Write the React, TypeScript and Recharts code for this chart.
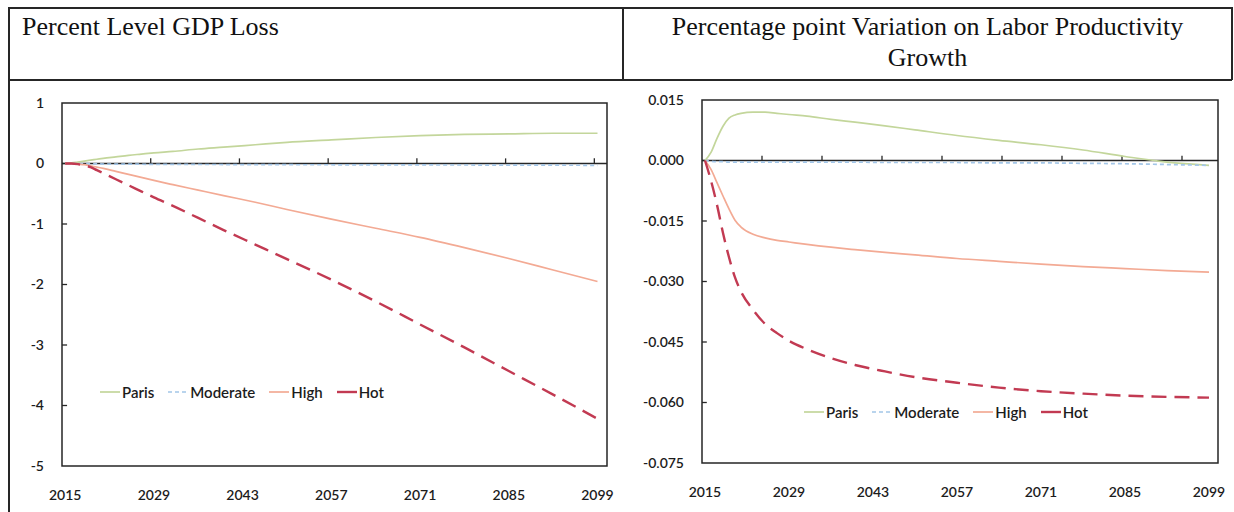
import {
  LineChart,
  Line,
  XAxis,
  YAxis,
  ReferenceLine,
  ReferenceArea,
  Legend,
} from "recharts";

// sample years (both panels share the same category axis 2015..2100)
const YEARS = [
  2015, 2016, 2017, 2018, 2019, 2020, 2021, 2023, 2025, 2027, 2029, 2032,
  2036, 2040, 2045, 2050, 2057, 2064, 2071, 2078, 2085, 2092, 2099,
];

// Percent level GDP loss
const GDP_PARIS = [
  0, 0.01, 0.025, 0.04, 0.055, 0.07, 0.085, 0.11, 0.135, 0.155, 0.175, 0.2,
  0.24, 0.27, 0.31, 0.35, 0.39, 0.43, 0.46, 0.48, 0.49, 0.5, 0.5,
];
const GDP_MODERATE = [
  0, 0, 0, 0, -0.005, -0.005, -0.01, -0.01, -0.01, -0.012, -0.014, -0.015,
  -0.016, -0.017, -0.018, -0.02, -0.021, -0.022, -0.024, -0.025, -0.026,
  -0.028, -0.03,
];
const GDP_HIGH = [
  0, 0, -0.01, -0.02, -0.04, -0.06, -0.08, -0.13, -0.18, -0.23, -0.28, -0.35,
  -0.44, -0.53, -0.64, -0.76, -0.92, -1.07, -1.22, -1.39, -1.57, -1.76, -1.95,
];
const GDP_HOT = [
  0, 0, -0.01, -0.03, -0.06, -0.11, -0.16, -0.26, -0.36, -0.46, -0.56, -0.7,
  -0.9, -1.1, -1.34, -1.58, -1.92, -2.28, -2.66, -3.04, -3.43, -3.82, -4.22,
];

// Percentage point variation on labor productivity growth
const LP_PARIS = [
  0, 0.002, 0.0055, 0.0085, 0.0105, 0.0113, 0.0117, 0.012, 0.012, 0.0117,
  0.0114, 0.011, 0.0102, 0.0095, 0.0086, 0.0076, 0.0062, 0.005, 0.0039,
  0.0026, 0.001, -0.0004, -0.0012,
];
const LP_MODERATE = [
  0, -0.0002, -0.0003, -0.0003, -0.0004, -0.0004, -0.0004, -0.0004, -0.0004,
  -0.0004, -0.0004, -0.0004, -0.0004, -0.0004, -0.0005, -0.0005, -0.0005,
  -0.0006, -0.0006, -0.0007, -0.0008, -0.001, -0.0012,
];
const LP_HIGH = [
  0, -0.0022, -0.0055, -0.0088, -0.012, -0.0148, -0.0165, -0.0183, -0.0192,
  -0.0198, -0.0202, -0.0208, -0.0215, -0.0221, -0.0228, -0.0234, -0.0243,
  -0.025, -0.0257, -0.0263, -0.0268, -0.0273, -0.0277,
];
const LP_HOT = [
  0, -0.005, -0.011, -0.018, -0.024, -0.029, -0.0325, -0.037, -0.0405,
  -0.0428, -0.0447, -0.0468, -0.049, -0.0507, -0.0523, -0.0537, -0.0551,
  -0.0563, -0.0572, -0.0578, -0.0583, -0.0586, -0.0588,
];

// axes
const X_LABELS = [2015, 2029, 2043, 2057, 2071, 2085, 2099];
const GDP_Y_TICKS = [-5, -4, -3, -2, -1, 0, 1];
const LP_Y_TICKS = [-0.075, -0.06, -0.045, -0.03, -0.015, 0, 0.015];
// tick marks on the zero line (category boundaries)
const GDP_ZERO_TICKS = [2028.5, 2042.5, 2056.5, 2070.5, 2084.5, 2098.5];
const LP_ZERO_TICKS = [
  2024.5, 2034.5, 2044.5, 2054.5, 2064.5, 2074.5, 2084.5, 2094.5,
];

const X_DOMAIN: [number, number] = [2014.5, 2100.5];
const AXIS = "#262626";
const TEXT = "#1c1c1c";
const FONT = "Lato, 'Open Sans', sans-serif";
const SERIF = "'Liberation Serif', 'DejaVu Serif', serif";

const SERIES = [
  { key: "Paris", color: "#c3d69b", dash: undefined, width: 1.7 },
  { key: "Moderate", color: "#a3c6e8", dash: "4 3", width: 1.7 },
  { key: "High", color: "#f3aa94", dash: undefined, width: 1.7 },
  { key: "Hot", color: "#c23a52", dash: "15 8", width: 2.4 },
];

const gdpData = YEARS.map((year, i) => ({
  year,
  Paris: GDP_PARIS[i],
  Moderate: GDP_MODERATE[i],
  High: GDP_HIGH[i],
  Hot: GDP_HOT[i],
}));

const lpData = YEARS.map((year, i) => ({
  year,
  Paris: LP_PARIS[i],
  Moderate: LP_MODERATE[i],
  High: LP_HIGH[i],
  Hot: LP_HOT[i],
}));

function LegendRow() {
  return (
    <div
      style={{
        display: "flex",
        alignItems: "center",
        fontFamily: FONT,
        fontSize: 15,
        fontWeight: 600,
        lineHeight: "18px",
        color: TEXT,
        whiteSpace: "nowrap",
      }}
    >
      {SERIES.map((s) => (
        <span
          key={s.key}
          style={{ display: "flex", alignItems: "center", marginRight: 14 }}
        >
          <svg width={20} height={6}>
            <line
              x1={0}
              y1={3}
              x2={20}
              y2={3}
              stroke={s.color}
              strokeWidth={s.width}
              strokeDasharray={s.key === "Moderate" ? "4 3" : undefined}
            />
          </svg>
          <span style={{ marginLeft: 2 }}>{s.key}</span>
        </span>
      ))}
    </div>
  );
}

interface PanelProps {
  data: typeof gdpData;
  width: number;
  height: number;
  margin: { top: number; right: number; left: number; bottom: number };
  yWidth: number;
  yDomain: [number, number];
  yTicks: number[];
  zeroTicks: number[];
  zeroTickLen: number;
  fmt: (v: number) => string;
  legendPos: { left: number; top: number };
}

const tickStyle = { fill: TEXT, fontSize: 14, fontFamily: FONT, fontWeight: 600 };

function Panel(p: PanelProps) {
  const [yMin, yMax] = p.yDomain;
  return (
    <LineChart width={p.width} height={p.height} data={p.data} margin={p.margin}>
      {/* plot area frame */}
      <ReferenceArea
        x1={X_DOMAIN[0]}
        x2={X_DOMAIN[1]}
        y1={yMin}
        y2={yMax}
        fill="none"
        stroke={AXIS}
        strokeWidth={1.5}
        ifOverflow="visible"
      />
      <XAxis
        type="number"
        dataKey="year"
        domain={X_DOMAIN}
        ticks={X_LABELS}
        interval={0}
        axisLine={false}
        tickLine={false}
        tickSize={0}
        tickMargin={24}
        height={30}
        tick={tickStyle}
      />
      <YAxis
        type="number"
        domain={p.yDomain}
        ticks={p.yTicks}
        interval={0}
        axisLine={false}
        tickLine={false}
        tickSize={0}
        tickMargin={18}
        width={p.yWidth}
        tickFormatter={p.fmt}
        tick={tickStyle}
      />
      {/* inside tick marks on the value axis */}
      {p.yTicks.slice(1, -1).map((t) => (
        <ReferenceLine
          key={`yt${t}`}
          segment={[
            { x: X_DOMAIN[0], y: t },
            { x: X_DOMAIN[0] + 0.8, y: t },
          ]}
          stroke={AXIS}
          strokeWidth={1.3}
        />
      ))}
      {/* horizontal category axis crossing at zero */}
      <ReferenceLine y={0} stroke={AXIS} strokeWidth={1.6} />
      {p.zeroTicks.map((t) => (
        <ReferenceLine
          key={`zt${t}`}
          segment={[
            { x: t, y: 0 },
            { x: t, y: p.zeroTickLen },
          ]}
          stroke={AXIS}
          strokeWidth={1.3}
        />
      ))}
      {SERIES.map((s) => (
        <Line
          key={s.key}
          type="monotone"
          dataKey={s.key}
          stroke={s.color}
          strokeWidth={s.width}
          strokeDasharray={s.dash}
          dot={false}
          activeDot={false}
          isAnimationActive={false}
        />
      ))}
      <Legend
        layout="horizontal"
        verticalAlign="middle"
        align="center"
        content={<LegendRow />}
        wrapperStyle={{ left: p.legendPos.left, top: p.legendPos.top, width: "auto" }}
      />
    </LineChart>
  );
}

const line = (style: React.CSSProperties) => (
  <div style={{ position: "absolute", background: AXIS, ...style }} />
);

export default function App() {
  return (
    <div
      style={{
        position: "absolute",
        left: 0,
        top: 0,
        width: 1234,
        height: 512,
        background: "#fff",
        overflow: "hidden",
      }}
    >
      {/* table rules */}
      {line({ left: 8, top: 7, width: 1224, height: 1.5 })}
      {line({ left: 8, top: 79, width: 1224, height: 1.5 })}
      {line({ left: 8, top: 7, width: 1.5, height: 505 })}
      {line({ left: 622, top: 7, width: 1.5, height: 73 })}
      {line({ left: 1231, top: 7, width: 1.5, height: 73 })}

      <div
        style={{
          position: "absolute",
          left: 22,
          top: 11,
          fontFamily: SERIF,
          fontSize: 26,
          lineHeight: "31px",
          color: "#111",
        }}
      >
        Percent Level GDP Loss
      </div>
      <div
        style={{
          position: "absolute",
          left: 624,
          width: 607,
          top: 11,
          textAlign: "center",
          fontFamily: SERIF,
          fontSize: 26,
          lineHeight: "31px",
          color: "#111",
        }}
      >
        Percentage point Variation on Labor Productivity
        <br />
        Growth
      </div>

      <div style={{ position: "absolute", left: 0, top: 80 }}>
        <Panel
          data={gdpData}
          width={620}
          height={432}
          margin={{ top: 23, right: 13, left: 22, bottom: 16 }}
          yWidth={40}
          yDomain={[-5, 1]}
          yTicks={GDP_Y_TICKS}
          zeroTicks={GDP_ZERO_TICKS}
          zeroTickLen={0.085}
          fmt={(v) => String(v)}
          legendPos={{ left: 100, top: 303 }}
        />
      </div>
      <div style={{ position: "absolute", left: 622, top: 80 }}>
        <Panel
          data={lpData}
          width={612}
          height={432}
          margin={{ top: 20, right: 16, left: 30, bottom: 19 }}
          yWidth={50}
          yDomain={[-0.075, 0.015]}
          yTicks={LP_Y_TICKS}
          zeroTicks={LP_ZERO_TICKS}
          zeroTickLen={0.0012}
          fmt={(v) => v.toFixed(3)}
          legendPos={{ left: 182, top: 323 }}
        />
      </div>
    </div>
  );
}
